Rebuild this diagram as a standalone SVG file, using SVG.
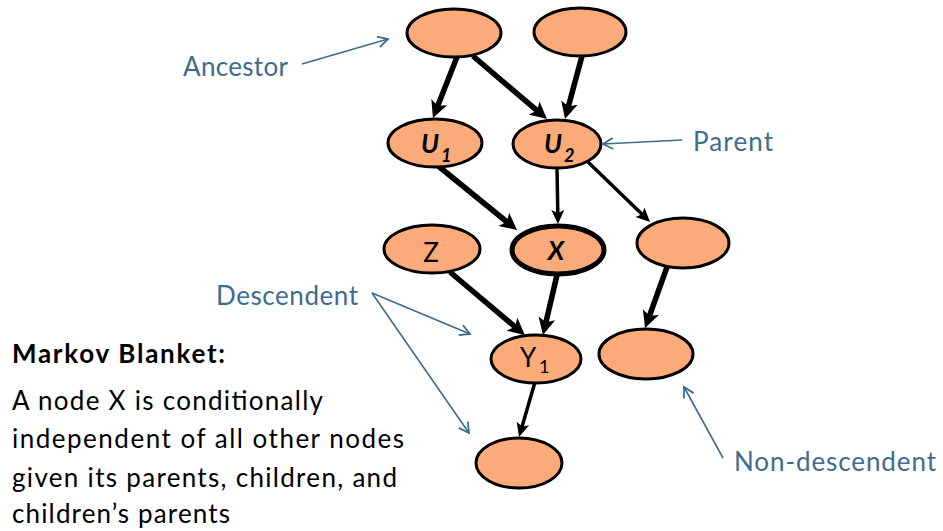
<svg xmlns="http://www.w3.org/2000/svg" width="943" height="531" viewBox="0 0 943 531">
  <style>
    .node { fill: #FBAA7A; stroke: #000; stroke-width: 3; }
    .node.focus { stroke-width: 5; }
    .lbl { font-family: Lato, "Liberation Sans", sans-serif; font-size: 26px; fill: #000; text-anchor: middle; }
    .sub { font-size: 18px; text-anchor: start; }
    .edge { stroke: #000; fill: none; stroke-width: 5.5; marker-end: url(#head); }
    .edge.thin { stroke-width: 3.5; marker-end: url(#headSmall); }
    .note { stroke: #3E6C8F; fill: none; stroke-width: 1.6; marker-end: url(#open); }
    .ann { font-family: Lato, "Liberation Sans", sans-serif; font-size: 26px; fill: #3E6C8F; }
    .body { font-family: Lato, "Liberation Sans", sans-serif; font-size: 26px; fill: #000; }
  </style>
  <defs>
    <marker id="head" markerUnits="userSpaceOnUse" orient="auto" refX="0" refY="0" markerWidth="20" markerHeight="20" overflow="visible">
      <path d="M8,0 L-9,-8.5 L-5,0 L-9,8.5 Z" fill="#000"/>
    </marker>
    <marker id="headSmall" markerUnits="userSpaceOnUse" orient="auto" refX="0" refY="0" markerWidth="16" markerHeight="16" overflow="visible">
      <path d="M6,0 L-8,-6.5 L-5,0 L-8,6.5 Z" fill="#000"/>
    </marker>
    <marker id="open" markerUnits="userSpaceOnUse" orient="auto" refX="0" refY="0" markerWidth="14" markerHeight="14" overflow="visible">
      <path d="M-10,-5.5 L0,0 L-10,5.5" fill="none" stroke="#3E6C8F" stroke-width="1.8"/>
    </marker>
  </defs>

  <!-- causal edges -->
  <g id="edges">
    <line class="edge" x1="457" y1="57" x2="435.9" y2="110.5"/>
    <line class="edge" x1="473" y1="56" x2="540.9" y2="113.9"/>
    <line class="edge" x1="582" y1="56" x2="567.1" y2="111.3"/>
    <line class="edge" x1="437" y1="165" x2="510.8" y2="225"/>
    <line class="edge thin" x1="557" y1="168" x2="557.9" y2="218"/>
    <line class="edge thin" x1="588" y1="162" x2="645.7" y2="217.8"/>
    <line class="edge" x1="450" y1="272" x2="518.8" y2="330"/>
    <line class="edge" x1="557" y1="275" x2="544.8" y2="327.2"/>
    <line class="edge" x1="667" y1="267" x2="647.8" y2="320.5"/>
    <line class="edge thin" x1="535" y1="382" x2="520.7" y2="431.2"/>
  </g>

  <!-- nodes -->
  <g id="ancestor1"><ellipse class="node" cx="454" cy="33" rx="47" ry="24"/></g>
  <g id="ancestor2"><ellipse class="node" cx="580" cy="32" rx="46" ry="24"/></g>
  <g id="u1">
    <ellipse class="node" cx="435" cy="143" rx="47" ry="24"/>
    <text class="lbl" x="430" y="153" font-weight="bold" font-style="italic">U</text>
    <text class="lbl sub" x="441" y="162" font-weight="bold" font-style="italic">1</text>
  </g>
  <g id="u2">
    <ellipse class="node" cx="557" cy="144" rx="44" ry="24"/>
    <text class="lbl" x="553" y="153" font-weight="bold" font-style="italic">U</text>
    <text class="lbl sub" x="564" y="162" font-weight="bold" font-style="italic">2</text>
  </g>
  <g id="z">
    <ellipse class="node" cx="432" cy="249" rx="48" ry="24"/>
    <text class="lbl" x="431" y="262">Z</text>
  </g>
  <g id="x">
    <ellipse class="node focus" cx="558" cy="250" rx="46" ry="24"/>
    <text class="lbl" x="556" y="260" font-style="italic" font-weight="bold">X</text>
  </g>
  <g id="nondesc1"><ellipse class="node" cx="683" cy="243" rx="46" ry="25"/></g>
  <g id="y1">
    <ellipse class="node" cx="536" cy="359" rx="45" ry="24"/>
    <text class="lbl" x="528" y="367">Y</text>
    <text class="lbl sub" x="539" y="373">1</text>
  </g>
  <g id="nondesc2"><ellipse class="node" cx="646" cy="354" rx="47" ry="25"/></g>
  <g id="child"><ellipse class="node" cx="519" cy="463" rx="43" ry="25"/></g>

  <!-- annotation pointers -->
  <g id="notes">
    <line class="note" x1="302" y1="64" x2="388" y2="39"/>
    <line class="note" x1="682" y1="140" x2="603" y2="144"/>
    <line class="note" x1="372" y1="293" x2="470" y2="334"/>
    <line class="note" x1="372" y1="293" x2="469" y2="433"/>
    <line class="note" x1="723" y1="458" x2="684" y2="387"/>
  </g>

  <g id="annotations">
    <text class="ann" x="183" y="76" textLength="105">Ancestor</text>
    <text class="ann" x="693" y="151" textLength="80">Parent</text>
    <text class="ann" x="216" y="305" textLength="142">Descendent</text>
    <text class="ann" x="734" y="471" textLength="202">Non-descendent</text>
  </g>

  <g id="definition">
    <text class="body" x="12" y="363" font-weight="bold" textLength="213">Markov Blanket:</text>
    <text class="body" x="12" y="410" textLength="311">A node X is conditionally</text>
    <text class="body" x="12" y="448" textLength="392">independent of all other nodes</text>
    <text class="body" x="12" y="487" textLength="385">given its parents, children, and</text>
    <text class="body" x="12" y="523" textLength="218">children’s parents</text>
  </g>
</svg>
